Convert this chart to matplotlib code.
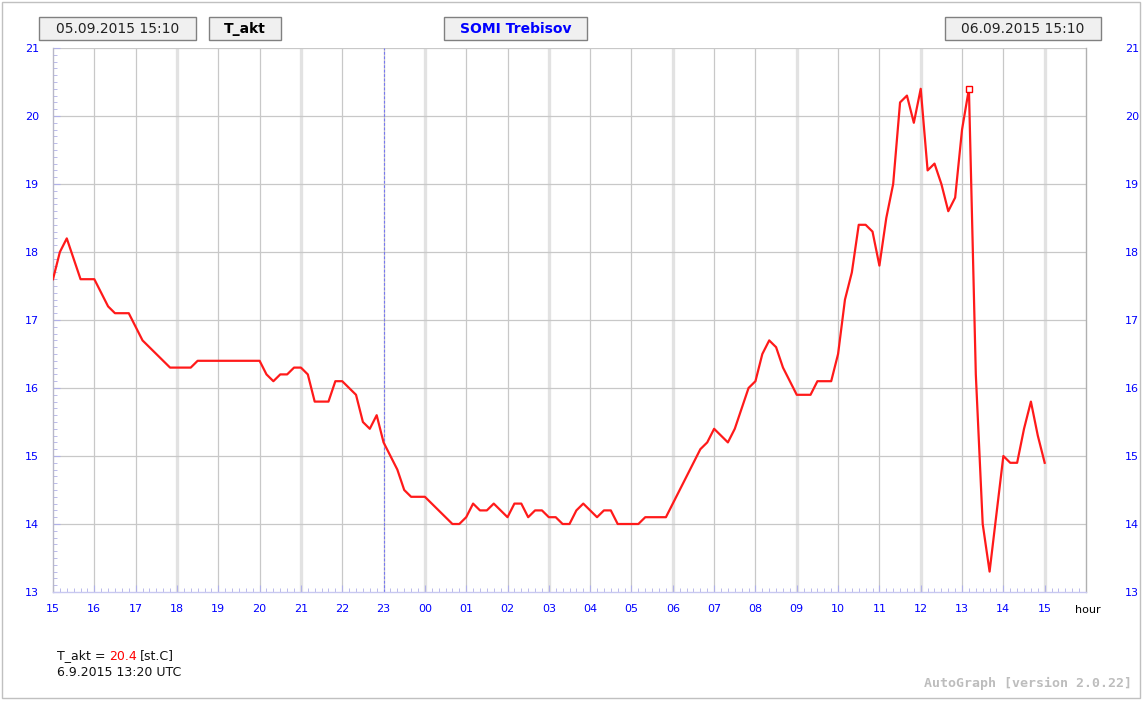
import numpy as np
import matplotlib
matplotlib.use("Agg")
import matplotlib.pyplot as plt
from matplotlib.patches import Rectangle
from matplotlib.ticker import MultipleLocator, FixedLocator

# T_akt, SOMI Trebisov, 05.09.2015 15:10 - 06.09.2015 15:10 (10 min steps, vertices only)
times = ["15:00", "15:10", "15:20", "15:40", "16:00", "16:20", "16:30", "16:50",
         "17:10", "17:50", "18:20", "18:30", "20:00", "20:10", "20:20", "20:30",
         "20:40", "20:50", "21:00", "21:10", "21:20", "21:40", "21:50", "22:00",
         "22:20", "22:30", "22:40", "22:50", "23:00", "23:20", "23:30", "23:40",
         "00:00", "00:40", "00:50", "01:00", "01:10", "01:20", "01:30", "01:40",
         "02:00", "02:10", "02:20", "02:30", "02:40", "02:50", "03:00", "03:10",
         "03:20", "03:30", "03:40", "03:50", "04:10", "04:20", "04:30", "04:40",
         "05:10", "05:20", "05:50", "06:40", "06:50", "07:00", "07:20", "07:30",
         "07:50", "08:00", "08:10", "08:20", "08:30", "08:40", "09:00", "09:20",
         "09:30", "09:50", "10:00", "10:10", "10:20", "10:30", "10:40", "10:50",
         "11:00", "11:10", "11:20", "11:30", "11:40", "11:50", "12:00", "12:10",
         "12:20", "12:30", "12:40", "12:50", "13:00", "13:10", "13:20", "13:30",
         "13:40", "14:00", "14:10", "14:20", "14:30", "14:40", "14:50", "15:00"]
temps = [17.6, 18.0, 18.2, 17.6, 17.6, 17.2, 17.1, 17.1,
         16.7, 16.3, 16.3, 16.4, 16.4, 16.2, 16.1, 16.2,
         16.2, 16.3, 16.3, 16.2, 15.8, 15.8, 16.1, 16.1,
         15.9, 15.5, 15.4, 15.6, 15.2, 14.8, 14.5, 14.4,
         14.4, 14.0, 14.0, 14.1, 14.3, 14.2, 14.2, 14.3,
         14.1, 14.3, 14.3, 14.1, 14.2, 14.2, 14.1, 14.1,
         14.0, 14.0, 14.2, 14.3, 14.1, 14.2, 14.2, 14.0,
         14.0, 14.1, 14.1, 15.1, 15.2, 15.4, 15.2, 15.4,
         16.0, 16.1, 16.5, 16.7, 16.6, 16.3, 15.9, 15.9,
         16.1, 16.1, 16.5, 17.3, 17.7, 18.4, 18.4, 18.3,
         17.8, 18.5, 19.0, 20.2, 20.3, 19.9, 20.4, 19.2,
         19.3, 19.0, 18.6, 18.8, 19.8, 20.4, 16.2, 14.0,
         13.3, 15.0, 14.9, 14.9, 15.4, 15.8, 15.3, 14.9]
last_time = "13:10"
last_value = 20.4
hour_labels = ["15", "16", "17", "18", "19", "20", "21", "22", "23", "00", "01", "02",
               "03", "04", "05", "06", "07", "08", "09", "10", "11", "12", "13", "14", "15"]


def to_hours(t, first=15):
    h, m = map(int, t.split(":"))
    v = h + m / 60.0
    return v + 24 if v < first else v


# hours since 05.09. 00:00, with day rollover
x = []
day = 0
prev = None
for t in times:
    h, m = map(int, t.split(":"))
    v = h + m / 60.0
    if prev is not None and v < prev:
        day = 24
    prev = v
    x.append(v + day)
x = np.array(x)

W, H = 1143, 701
fig = plt.figure(figsize=(W / 100, H / 100), dpi=100)
ax = fig.add_axes([53 / W, (H - 592) / H, (1086 - 53) / W, (592 - 48) / H])

blue = "#0000ff"
tickc = "#b0b0e8"

ax.set_xlim(15, 40)
ax.set_ylim(13, 21)

# grid: hourly lines, every 3rd hour lighter and wider
for hh in range(16, 40):
    if hh % 3 == 0:
        ax.axvline(hh, color="#e2e2e2", lw=2.4, zorder=1)
    else:
        ax.axvline(hh, color="#c8c8c8", lw=0.9, zorder=1)
for yy in range(14, 22):
    ax.axhline(yy, color="#c8c8c8", lw=0.9, zorder=1)
# midnight marker
ax.axvline(23, color="#7878f0", lw=0.8, ls=(0, (2.5, 1.5)), zorder=2)

ax.plot(x, temps, color="#ff1a1a", lw=1.6, zorder=3)
ax.plot([to_hours(last_time)], [last_value], marker="s", ms=5, mfc="white",
        mec="#ff0000", mew=1.0, zorder=4)

ax.spines["top"].set_visible(False)
ax.spines["bottom"].set_color("#c8c8f0")
ax.spines["left"].set_color("#b8b8c8")
ax.spines["right"].set_color("#b0b0b0")
for s in ["left", "bottom", "right"]:
    ax.spines[s].set_linewidth(1.0)

ax.xaxis.set_major_locator(FixedLocator(range(15, 40)))
ax.set_xticklabels(hour_labels)
ax.xaxis.set_minor_locator(MultipleLocator(1 / 6))
ax.yaxis.set_major_locator(MultipleLocator(1))
ax.yaxis.set_minor_locator(MultipleLocator(0.1))
ax.tick_params(axis="both", which="major", direction="in", length=5, color=tickc,
               labelcolor=blue, labelsize=8)
ax.tick_params(axis="both", which="minor", direction="in", length=3, color=tickc)
ax.tick_params(axis="x", pad=9)
ax.tick_params(axis="y", pad=10, right=True, which="both")
ax.set_yticks(range(13, 22))
ax.set_yticklabels([str(v) for v in range(13, 22)])

ax2 = ax.twinx()
ax2.set_ylim(13, 21)
ax2.set_yticks(range(13, 22))
ax2.tick_params(axis="y", length=0, pad=28, labelcolor=blue, labelsize=8)
for s in ax2.spines.values():
    s.set_visible(False)

fig.text(1075 / W, 1 - 610 / H, "hour", fontsize=8, color="black", ha="left", va="center")


def px(xp, yp):
    return xp / W, 1 - yp / H


def header_box(x0, x1, label, color="#222222", weight="normal"):
    fig.add_artist(Rectangle(px(x0, 40), (x1 - x0) / W, 23 / H, transform=fig.transFigure,
                             facecolor="#f0f0f0", edgecolor="#808080", lw=1.0))
    fig.text(*px((x0 + x1) / 2, 29), label, ha="center", va="center", fontsize=10,
             color=color, weight=weight)


header_box(39, 196, "05.09.2015 15:10")
header_box(209, 281, "T_akt", color="black", weight="bold")
header_box(444, 587, "SOMI Trebisov", color=blue, weight="semibold")
header_box(945, 1101, "06.09.2015 15:10")

# frame round the whole picture
fig.add_artist(Rectangle(px(2, 698), 1138 / W, 696 / H, transform=fig.transFigure,
                         facecolor="none", edgecolor="#c0c0c0", lw=1.0))

# current value
t1 = fig.text(*px(57, 656), "T_akt = ", fontsize=9, color="#111111", va="center")
fig.canvas.draw()
bb = t1.get_window_extent()
t2 = fig.text(bb.x1 / W, 1 - 656 / H, "20.4", fontsize=9, color="#ff0000", va="center")
bb2 = t2.get_window_extent(renderer=fig.canvas.get_renderer())
fig.text(bb2.x1 / W + 0.002, 1 - 656 / H, "[st.C]", fontsize=9, color="#111111", va="center")
fig.text(*px(57, 672), "6.9.2015 13:20 UTC", fontsize=9, color="#111111", va="center")

fig.text(*px(1132, 683), "AutoGraph [version 2.0.22]", fontsize=9.5, color="#bdbdbd",
         family="DejaVu Sans Mono", weight="bold", ha="right", va="center")

fig.savefig("out.png", dpi=100)
